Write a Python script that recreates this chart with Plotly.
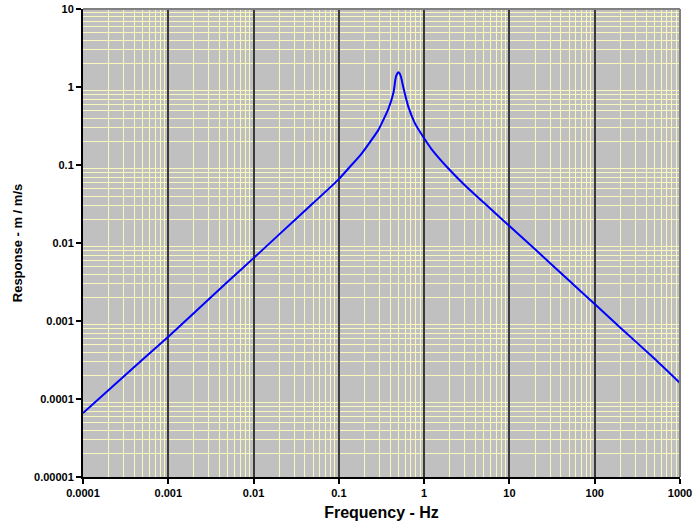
import plotly.graph_objects as go

freq_hz = [0.0001, 0.0002, 0.0005, 0.001, 0.002, 0.005, 0.01, 0.02, 0.05, 0.1,
           0.135, 0.18, 0.242, 0.29, 0.332, 0.38, 0.435, 0.467, 0.49, 0.50,
           0.515, 0.535, 0.569, 0.652, 0.78, 1.0, 1.22, 1.84, 3, 5,
           10, 20, 50, 100, 200, 500, 1000]
response = [6.6e-5, 1.3e-4, 3.2e-4, 6.3e-4, 1.27e-3, 3.2e-3, 6.4e-3, 1.29e-2, 3.25e-2, 6.6e-2,
            9.5e-2, 0.135, 0.21, 0.28, 0.377, 0.52, 0.83, 1.35, 1.52, 1.55,
            1.5, 1.35, 1.0, 0.56, 0.342, 0.22, 0.16, 0.095, 0.055, 0.033,
            0.0165, 0.0083, 0.0033, 0.00165, 0.00082, 0.00033, 0.00016]

x_tickvals = [0.0001, 0.001, 0.01, 0.1, 1, 10, 100, 1000]
x_ticktext = ["0.0001", "0.001", "0.01", "0.1", "1", "10", "100", "1000"]
y_tickvals = [0.00001, 0.0001, 0.001, 0.01, 0.1, 1, 10]
y_ticktext = ["0.00001", "0.0001", "0.001", "0.01", "0.1", "1", "10"]
minor_digits = [2, 3, 4, 5, 6, 7, 8, 9]

x_minor = [d * t for t in x_tickvals[:-1] for d in minor_digits]
y_minor = [d * t for t in y_tickvals[:-1] for d in minor_digits]

font_family = "Liberation Sans, Arial, sans-serif"

fig = go.Figure()
fig.add_trace(go.Scatter(x=freq_hz, y=response, mode="lines",
                         line=dict(color="#0000FF", width=2, shape="spline", smoothing=0.6),
                         showlegend=False))

fig.update_layout(
    width=693, height=527,
    margin=dict(l=83, r=13, t=9, b=50),
    paper_bgcolor="white",
    plot_bgcolor="#C0C0C0",
    font=dict(family=font_family, color="black"),
    xaxis=dict(
        type="log", range=[-4, 3], automargin=False,
        tickvals=x_tickvals, ticktext=x_ticktext,
        ticklabeloverflow="allow",
        tickfont=dict(size=11, family=font_family, weight="bold"),
        showgrid=True, gridcolor="#3a3a3a", gridwidth=1.5,
        minor=dict(tickmode="array", tickvals=x_minor, showgrid=True,
                   gridcolor="#F8F8BC", gridwidth=1, ticks=""),
        showline=True, linecolor="black", linewidth=2,
        ticks="outside", ticklen=5, tickcolor="black", tickwidth=2,
        zeroline=False,
        title=dict(text="Frequency - Hz", font=dict(size=16, family=font_family, weight="bold"),
                   standoff=9),
    ),
    yaxis=dict(
        type="log", range=[-5, 1], automargin=False,
        tickvals=y_tickvals, ticktext=y_ticktext,
        ticklabeloverflow="allow",
        tickfont=dict(size=11, family=font_family, weight="bold"),
        showgrid=False,
        minor=dict(tickmode="array", tickvals=y_minor, showgrid=True,
                   gridcolor="#F8F8BC", gridwidth=1, ticks=""),
        showline=True, linecolor="black", linewidth=2,
        ticks="outside", ticklen=5, tickcolor="black", tickwidth=2,
        zeroline=False,
        title=dict(text="Response - m / m/s", font=dict(size=13, family=font_family, weight="bold"),
                   standoff=8),
    ),
    shapes=[dict(type="line", xref="paper", yref="paper", x0=0, x1=1, y0=1, y1=1,
                 line=dict(color="#808080", width=2)),
            dict(type="line", xref="paper", yref="paper", x0=1, x1=1, y0=0, y1=1,
                 line=dict(color="#808080", width=2))],
)

fig.write_html("out.html", config={"displayModeBar": False},
               post_script="document.body.style.margin='0';document.body.style.overflow='hidden';")
